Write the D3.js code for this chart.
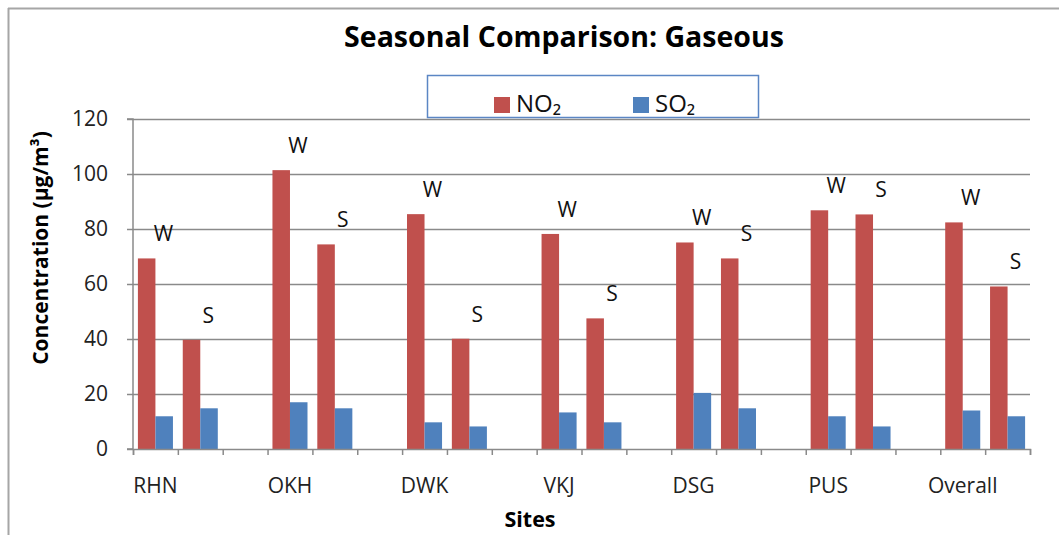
<!DOCTYPE html>
<html>
<head>
<meta charset="utf-8">
<script src="https://cdn.jsdelivr.net/npm/d3@7"></script>
<style>
  html, body { margin: 0; padding: 0; background: #fff; }
  svg { display: block; font-family: "Open Sans", "DejaVu Sans", sans-serif; }
</style>
</head>
<body>
<svg id="chart" width="1059" height="535"></svg>
<script>
// ---- data ----
const sites = ["RHN", "OKH", "DWK", "VKJ", "DSG", "PUS", "Overall"];
const seasons = ["W", "S"];
const series = ["NO₂", "SO₂"];
const no2Winter = [69.3, 101.4, 85.4, 78.2, 75.1, 86.8, 82.4];
const no2Summer = [39.7, 74.4, 40.1, 47.5, 69.3, 85.3, 59.1];
const so2Winter = [11.9, 17.0, 9.7, 13.3, 20.4, 11.9, 14.0];
const so2Summer = [14.8, 14.8, 8.2, 9.7, 14.8, 8.2, 11.9];
const yTicks = [0, 20, 40, 60, 80, 100, 120];
const titleText = "Seasonal Comparison: Gaseous";
const yTitle = "Concentration (µg/m³)";
const xTitle = "Sites";

// ---- build rows ----
const rows = [];
sites.forEach((s, i) => {
  rows.push({ site: s, season: "W", values: [no2Winter[i], so2Winter[i]] });
  rows.push({ site: s, season: "S", values: [no2Summer[i], so2Summer[i]] });
});
const slots = [];
sites.forEach((s, i) => {
  slots.push(s + "|W");
  slots.push(s + "|S");
  if (i < sites.length - 1) slots.push(s + "|gap");
});

// ---- layout ----
const plotL = 133, plotR = 1030, plotT = 119, plotB = 449;
const colors = { "NO₂": "#C0504D", "SO₂": "#4F81BD" };
const gridColor = "#8a8a8a";

const svg = d3.select("#chart");

const x = d3.scaleBand().domain(slots).range([plotL, plotR]).paddingInner(0).paddingOuter(0);
const xs = d3.scaleBand().domain(series).range([0, x.bandwidth()]).paddingInner(0).paddingOuter(0.28);
const y = d3.scaleLinear().domain([0, 120]).range([plotB, plotT]);
const xTickScale = d3.scaleLinear().domain([0, slots.length]).range([plotL, plotR]);

// outer chart frame
svg.append("line").attr("x1", 8).attr("x2", 1059).attr("y1", 8.5).attr("y2", 8.5)
  .attr("stroke", "#a6a6a6").attr("stroke-width", 2);
svg.append("line").attr("x1", 8.5).attr("x2", 8.5).attr("y1", 8).attr("y2", 535)
  .attr("stroke", "#a6a6a6").attr("stroke-width", 2);

// gridlines
svg.append("g").selectAll("line").data(yTicks.filter(d => d > 0)).join("line")
  .attr("x1", plotL).attr("x2", plotR)
  .attr("y1", d => Math.round(y(d)) + 0.5).attr("y2", d => Math.round(y(d)) + 0.5)
  .attr("stroke", gridColor).attr("stroke-width", 1.3);

// bars
const groups = svg.append("g").selectAll("g").data(rows).join("g")
  .attr("transform", d => `translate(${x(d.site + "|" + d.season)},0)`);
groups.selectAll("rect").data(d => d.values.map((v, k) => ({ key: series[k], v }))).join("rect")
  .attr("x", d => xs(d.key))
  .attr("width", xs.bandwidth())
  .attr("y", d => y(d.v))
  .attr("height", d => y(0) - y(d.v))
  .attr("fill", d => colors[d.key]);

// season labels (W / S)
svg.append("g").selectAll("text").data(rows).join("text")
  .attr("x", d => x(d.site + "|" + d.season) + x.bandwidth() / 2 + 8)
  .attr("y", d => y(d.values[0]) - 17)
  .attr("text-anchor", "middle")
  .attr("font-size", 21)
  .attr("fill", "#111")
  .text(d => d.season);

// y axis
const yAxis = svg.append("g").attr("transform", `translate(${plotL},0)`)
  .call(d3.axisLeft(y).tickValues(yTicks).tickSize(6).tickPadding(19).tickFormat(d3.format("d")));
yAxis.selectAll("path, line").attr("stroke", gridColor).attr("stroke-width", 1.5);
yAxis.select(".domain").attr("d", `M-6,${y(120)}H0V${y(0)}H-6`);
yAxis.selectAll("text").attr("font-size", 21).attr("fill", "#222")
  .attr("font-family", "Open Sans, sans-serif");

// x axis
const xAxis = svg.append("g").attr("transform", `translate(0,${plotB})`)
  .call(d3.axisBottom(xTickScale).tickValues(d3.range(slots.length + 1)).tickSize(6).tickFormat(""));
xAxis.selectAll("path, line").attr("stroke", gridColor).attr("stroke-width", 1.5);

// x category labels
svg.append("g").selectAll("text").data(sites).join("text")
  .attr("x", d => x(d + "|W") + x.bandwidth() / 2)
  .attr("y", 493)
  .attr("text-anchor", "middle")
  .attr("font-size", 21)
  .attr("fill", "#222")
  .text(d => d);

// title
svg.append("text").attr("x", 564).attr("y", 47).attr("text-anchor", "middle")
  .attr("font-size", 28.5).attr("font-weight", "bold").attr("fill", "#000")
  .text(titleText);

// axis titles
svg.append("text").attr("transform", "translate(48,248) rotate(-90)")
  .attr("text-anchor", "middle").attr("font-size", 21).attr("font-weight", "bold")
  .attr("fill", "#000").text(yTitle);
svg.append("text").attr("x", 530).attr("y", 527).attr("text-anchor", "middle")
  .attr("font-size", 21.5).attr("font-weight", "bold").attr("fill", "#000").text(xTitle);

// legend
const lg = svg.append("g");
lg.append("rect").attr("x", 427.5).attr("y", 75.5).attr("width", 331).attr("height", 42)
  .attr("fill", "#fff").attr("stroke", "#5b86c4").attr("stroke-width", 1.5);
const legendX = [494, 633];
const li = lg.selectAll("g.item").data(series).join("g").attr("class", "item")
  .attr("transform", (d, i) => `translate(${legendX[i]},0)`);
li.append("rect").attr("x", 0).attr("y", 97).attr("width", 16).attr("height", 16)
  .attr("fill", d => colors[d]);
li.append("text").attr("x", 22).attr("y", 112).attr("font-size", 24).attr("fill", "#111")
  .text(d => d);
</script>
</body>
</html>
